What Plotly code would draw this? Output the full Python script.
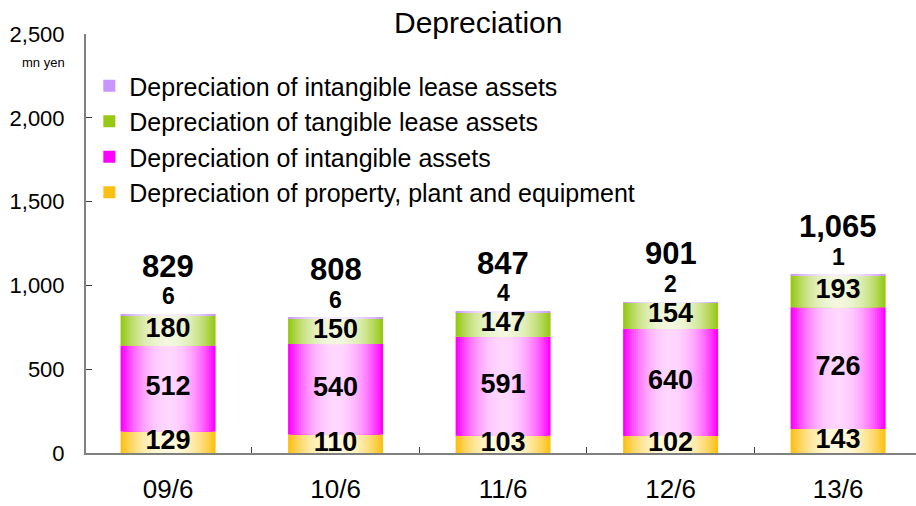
import plotly.graph_objects as go

categories = ["09/6", "10/6", "11/6", "12/6", "13/6"]
ppe = [129, 110, 103, 102, 143]
intangible = [512, 540, 591, 640, 726]
tangible_lease = [180, 150, 147, 154, 193]
intangible_lease = [6, 6, 4, 2, 1]
totals = [829, 808, 847, 901, 1065]

series = [
    ("Depreciation of property, plant and equipment", ppe, (252, 192, 20), (255, 250, 222)),
    ("Depreciation of intangible assets", intangible, (255, 0, 255), (255, 215, 255)),
    ("Depreciation of tangible lease assets", tangible_lease, (150, 200, 20), (242, 247, 222)),
    ("Depreciation of intangible lease assets", intangible_lease, (200, 150, 255), (246, 238, 255)),
]

FONT = "Liberation Sans, Arial, sans-serif"
BAR_W = 0.567
N_LAYERS = 22

W, H = 916, 506
L, T, B, R = 86, 34, 53, 0
PW, PH = W - L - R, H - T - B


def mix(a, b, t):
    return "rgb(%d,%d,%d)" % tuple(round(a[i] * (1 - t) + b[i] * t) for i in range(3))


fig = go.Figure()
bases = [0] * len(categories)
label_x, label_y, label_t = [], [], []
for si, (name, vals, sat, light) in enumerate(series):
    for k in range(N_LAYERS):
        r = 1 - k / N_LAYERS
        t = 1 - r ** 2.2
        fig.add_trace(go.Bar(
            x=categories, y=vals, base=bases, width=BAR_W * r,
            marker=dict(color=mix(sat, light, t), line=dict(width=0)),
            name=name, legendgroup=name, showlegend=(k == 0),
            legendrank=100 - si, hoverinfo="skip",
        ))
    if si < 3:
        for i, v in enumerate(vals):
            label_x.append(categories[i])
            label_y.append(bases[i] + v / 2)
            label_t.append(str(v))
    bases = [b + v for b, v in zip(bases, vals)]

fig.add_trace(go.Scatter(
    x=label_x, y=label_y, text=label_t, mode="text", showlegend=False,
    textfont=dict(family=FONT, size=27, color="black", weight="bold"),
    hoverinfo="skip",
))

for i, c in enumerate(categories):
    fig.add_annotation(x=c, y=totals[i], text=f"{intangible_lease[i]}", showarrow=False,
                       yanchor="middle", yshift=18,
                       font=dict(family=FONT, size=23, color="black", weight="bold"))
    fig.add_annotation(x=c, y=totals[i], text=f"{totals[i]:,}", showarrow=False,
                       yanchor="middle", yshift=48,
                       font=dict(family=FONT, size=31, color="black", weight="bold"))

fig.add_annotation(x=(478 - L) / PW, y=1 + (T - 22) / PH, xref="paper", yref="paper",
                   text="Depreciation", showarrow=False, yanchor="middle",
                   font=dict(family=FONT, size=30, color="black"))
fig.add_annotation(x=(67 - L) / PW, y=1 - (62 - T) / PH, xref="paper", yref="paper",
                   text="mn yen", showarrow=False, xanchor="right", yanchor="middle",
                   font=dict(family=FONT, size=13, color="black"))

fig.update_layout(
    width=W, height=H,
    margin=dict(l=L, r=R, t=T, b=B, pad=0),
    barmode="overlay",
    paper_bgcolor="white", plot_bgcolor="white",
    font=dict(family=FONT, color="black"),
    legend=dict(x=0.004, y=1 - (63 - T) / PH, xanchor="left", yanchor="top",
                font=dict(family=FONT, size=25, color="black"),
                bgcolor="rgba(0,0,0,0)", tracegroupgap=0, itemwidth=30),
    xaxis=dict(range=[-0.49, 4.465], showline=True, linecolor="#808080", linewidth=2,
               ticks="inside", tickson="boundaries", ticklen=6, tickcolor="#404040",
               ticklabelstandoff=12,
               tickfont=dict(family=FONT, size=26, color="black"), showgrid=False),
    yaxis=dict(range=[0, 2500], tickvals=[0, 500, 1000, 1500, 2000, 2500], tickformat=",",
               showline=True, linecolor="#808080", linewidth=2, ticks="inside", ticklen=6,
               tickcolor="#404040", ticklabelstandoff=15,
               tickfont=dict(family=FONT, size=22, color="black"),
               showgrid=False, zeroline=False),
)

fig.write_html("out.html", post_script="document.body.style.margin='0';",
               config={"displayModeBar": False})
